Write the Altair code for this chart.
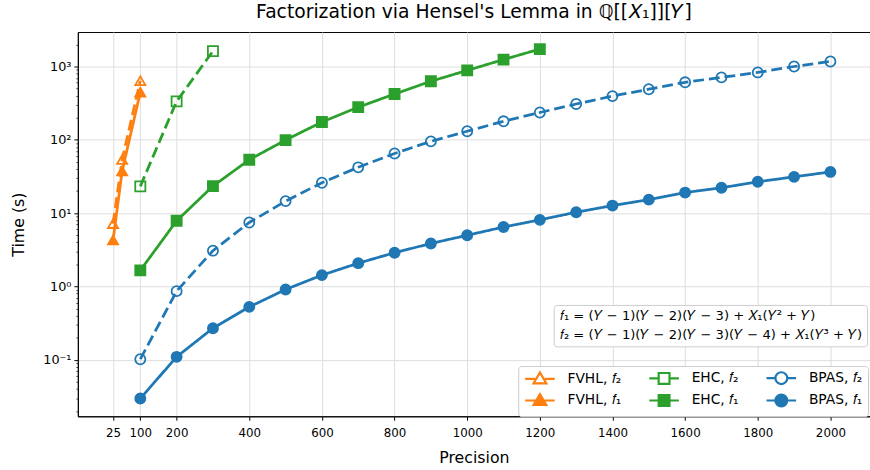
import altair as alt
import pandas as pd

# ---------------- data ----------------
prec_fvhl = [25, 50, 100]
fvhl_f2 = [7.2, 54, 640]
fvhl_f1 = [4.3, 37.6, 447]

prec_ehc_f2 = [100, 200, 300]
ehc_f2 = [23.2, 335, 1620]

prec_ehc_f1 = [100, 200, 300, 400, 500, 600, 700, 800, 900, 1000, 1100, 1200]
ehc_f1 = [1.66, 7.87, 23.4, 53.6, 99.3, 175, 279, 421, 629, 885, 1243, 1729]

prec_bpas = [100, 200, 300, 400, 500, 600, 700, 800, 900, 1000,
             1100, 1200, 1300, 1400, 1500, 1600, 1700, 1800, 1900, 2000]
bpas_f2 = [0.102, 0.865, 3.08, 7.47, 14.6, 26.0, 42.2, 65.1, 95.4, 131,
           179, 236, 308, 395, 490, 609, 710, 830, 1000, 1170]
bpas_f1 = [0.0297, 0.110, 0.270, 0.527, 0.911, 1.43, 2.08, 2.89, 3.86, 5.0,
           6.47, 8.11, 10.3, 12.7, 15.3, 19.1, 22.2, 26.8, 31.3, 36.5]

x_ticks = [25, 100, 200, 400, 600, 800, 1000, 1200, 1400, 1600, 1800, 2000]
y_major = [0.1, 1, 10, 100, 1000]

formula_lines = [
    "𝑓₁ = (𝑌 − 1)(𝑌 − 2)(𝑌 − 3) + 𝑋₁(𝑌² + 𝑌)",
    "𝑓₂ = (𝑌 − 1)(𝑌 − 2)(𝑌 − 3)(𝑌 − 4) + 𝑋₁(𝑌³ + 𝑌)",
]

# series names (legend is filled column by column, 2 rows x 3 columns)
S_FV2, S_EH2, S_BP2 = "FVHL, 𝑓₂", "EHC, 𝑓₂", "BPAS, 𝑓₂"
S_FV1, S_EH1, S_BP1 = "FVHL, 𝑓₁", "EHC, 𝑓₁", "BPAS, 𝑓₁"
series_order = [S_FV2, S_FV1, S_EH2, S_EH1, S_BP2, S_BP1]

ORANGE, GREEN, BLUE = "#ff7f0e", "#2ca02c", "#1f77b4"
series_colors = [ORANGE, ORANGE, GREEN, GREEN, BLUE, BLUE]
series_fill = ["transparent", ORANGE, "transparent", GREEN, "transparent", BLUE]
series_dash = [[11, 5], [1, 0], [11, 5], [1, 0], [11, 5], [1, 0]]
plot_shapes = ["triangle-up", "triangle-up", "square", "square", "circle", "circle"]

tri_open = "M-3,0L-1.0,0M1.0,0L3,0M0,-1.3L1.3,0.9L-1.3,0.9Z"
sq_open = "M-3,0L-1.1,0M1.1,0L3,0M-1.1,-1.1L1.1,-1.1L1.1,1.1L-1.1,1.1Z"
ci_open = "M-3,0L-1.2,0M1.2,0L3,0M1.2,0A1.2,1.2,0,1,1,-1.2,0A1.2,1.2,0,1,1,1.2,0Z"
tri_full = "M-3,0L3,0M0,-1.3L1.3,0.9L-1.3,0.9Z"
sq_full = "M-3,0L3,0M-1.1,-1.1L1.1,-1.1L1.1,1.1L-1.1,1.1Z"
ci_full = "M-3,0L3,0M1.2,0A1.2,1.2,0,1,1,-1.2,0A1.2,1.2,0,1,1,1.2,0Z"
legend_shapes = [tri_open, tri_full, sq_open, sq_full, ci_open, ci_full]

# ---------------- table ----------------
rows = []
for name, xs, ys in [
    (S_FV2, prec_fvhl, fvhl_f2), (S_FV1, prec_fvhl, fvhl_f1),
    (S_EH2, prec_ehc_f2, ehc_f2), (S_EH1, prec_ehc_f1, ehc_f1),
    (S_BP2, prec_bpas, bpas_f2), (S_BP1, prec_bpas, bpas_f1),
]:
    for xv, yv in zip(xs, ys):
        rows.append({"precision": xv, "time": yv, "series": name, "formula": ""})
df = pd.DataFrame(rows)

# minor tick positions for the log axis
y_ticks = []
for dec in [0.01, 0.1, 1, 10, 100, 1000]:
    for m in range(1, 10):
        v = m * dec if m > 1 else dec
        if 0.017 <= v <= 2950:
            y_ticks.append(v)

MAJOR = "indexof([0.1, 1, 10, 100, 1000], datum.value) >= 0"
label_expr = ("datum.value == 1000 ? '10³' : datum.value == 100 ? '10²' : "
              "datum.value == 10 ? '10¹' : datum.value == 1 ? '10⁰' : "
              "datum.value == 0.1 ? '10⁻¹' : ''")

x_enc = alt.X("precision:Q",
              scale=alt.Scale(domain=[-72, 2109], nice=False, zero=False),
              axis=alt.Axis(values=x_ticks, format="d", title="Precision", labelFontSize=12,
                            titleFontSize=16, labelOverlap=False, tickSize=4,
                            labelPadding=8, titlePadding=11, grid=True))
y_enc = alt.Y("time:Q",
              scale=alt.Scale(type="log", domain=[0.0170, 2951], nice=False),
              axis=alt.Axis(values=y_ticks, labelExpr=label_expr, title="Time (s)",
                            labelFontSize=13, titleFontSize=16, labelOverlap=False,
                            labelPadding=3, titlePadding=17,
                            gridOpacity={"condition": {"test": MAJOR, "value": 1}, "value": 0},
                            tickSize={"condition": {"test": MAJOR, "value": 4}, "value": 2},
                            tickWidth={"condition": {"test": MAJOR, "value": 1}, "value": 0.7}))

base = alt.Chart(df)

lines = base.mark_line(strokeWidth=2.8).encode(
    x=x_enc, y=y_enc,
    color=alt.Color("series:N", scale=alt.Scale(domain=series_order, range=series_colors), legend=None),
    strokeDash=alt.StrokeDash("series:N", scale=alt.Scale(domain=series_order, range=series_dash), legend=None),
    detail="series:N",
)

points = base.mark_point(size=105, opacity=1, strokeWidth=1.8).encode(
    x=x_enc, y=y_enc,
    shape=alt.Shape("series:N", scale=alt.Scale(domain=series_order, range=plot_shapes), legend=None),
    stroke=alt.Stroke("series:N", scale=alt.Scale(domain=series_order, range=series_colors), legend=None),
    fill=alt.Fill("series:N", scale=alt.Scale(domain=series_order, range=series_fill), legend=None),
)

series_legend = alt.Legend(
    orient="none", legendX=447, legendY=339, columns=3, title=None,
    symbolSize=100, symbolStrokeWidth=2.2, symbolOffset=10, labelOffset=21,
    labelFontSize=14, columnPadding=23, rowPadding=1, padding=5,
    strokeColor="#cccccc", fillColor="white", cornerRadius=3,
)
legend_layer = base.transform_filter("false").mark_point(opacity=1).encode(
    shape=alt.Shape("series:N", scale=alt.Scale(domain=series_order, range=legend_shapes), legend=series_legend),
    stroke=alt.Stroke("series:N", scale=alt.Scale(domain=series_order, range=series_colors), legend=series_legend),
    fill=alt.Fill("series:N", scale=alt.Scale(domain=series_order, range=series_fill), legend=series_legend),
)

formula_legend = alt.Legend(
    orient="none", legendX=483, legendY=277, title=None,
    symbolSize=0, symbolOpacity=0, symbolOffset=0, labelOffset={"expr": "-12"},
    labelFontSize=13.3, rowPadding=5, padding=5, labelLimit=400,
    strokeColor="#cccccc", fillColor="white", cornerRadius=3,
)
formula_layer = base.transform_filter("false").mark_point(opacity=0).encode(
    shape=alt.Shape("formula:N", scale=alt.Scale(domain=formula_lines, range=["circle", "circle"]),
                    legend=formula_legend),
)

chart = alt.layer(lines, points, legend_layer, formula_layer).resolve_scale(
    shape="independent", stroke="independent", fill="independent"
).properties(
    width=804, height=390,
    title=alt.Title("Factorization via Hensel's Lemma in ℚ[[𝑋₁]][𝑌]", fontSize=19,
                    fontWeight="normal", offset=10, anchor="middle", color="black"),
    autosize=alt.AutoSizeParams(type="none"),
    padding={"left": 79, "top": 29, "right": 0, "bottom": 51},
).configure(
    font="DejaVu Sans",
).configure_view(
    stroke="black", strokeWidth=1,
).configure_axis(
    domainColor="black", tickColor="black", labelColor="black", titleColor="black",
    gridColor="#dddddd", gridWidth=1, titleFontWeight="normal",
)

chart.save("out.html", embed_options={"renderer": "svg", "actions": False})
